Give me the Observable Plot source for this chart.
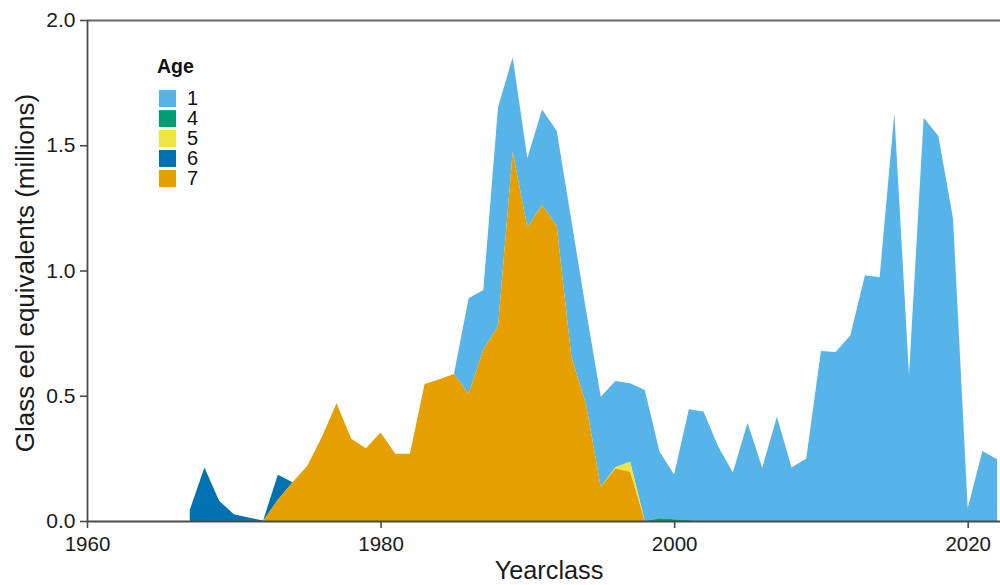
<!DOCTYPE html>
<html>
<head>
<meta charset="utf-8">
<script src="https://cdn.jsdelivr.net/npm/d3@7"></script>
<script src="https://cdn.jsdelivr.net/npm/@observablehq/plot@0.6"></script>
<style>
  html, body { margin: 0; padding: 0; background: #fff; }
  #wrap { position: relative; width: 1000px; height: 585px; font-family: "Liberation Sans", Arial, sans-serif; }
  #legend { position: absolute; left: 157px; top: 55px; color: #111; }
  #legend .title { font-weight: bold; font-size: 19.5px; line-height: 22px; margin-bottom: 11px; }
  #legend .row { display: flex; align-items: center; height: 20px; font-size: 20px; }
  #legend .sw { width: 17px; height: 17px; margin-left: 2px; margin-right: 11px; }
</style>
</head>
<body>
<div id="wrap"><div id="chart"></div><div id="legend"></div></div>
<script>
const years = [1967,1968,1969,1970,1971,1972,1973,1974,1975,1976,1977,1978,1979,1980,1981,1982,1983,1984,1985,1986,1987,1988,1989,1990,1991,1992,1993,1994,1995,1996,1997,1998,1999,2000,2001,2002,2003,2004,2005,2006,2007,2008,2009,2010,2011,2012,2013,2014,2015,2016,2017,2018,2019,2020,2021,2022];

const ages = ["1", "4", "5", "6", "7"];
const ageColors = ["#56B4E9", "#009E73", "#F0E442", "#0072B2", "#E69F00"];

const age1 = [0,0,0,0,0,0,0,0,0,0,0,0,0,0,0,0,0,0,0,0.382,0.237,0.875,0.377,0.276,0.382,0.38,0.544,0.375,0.359,0.344,0.313,0.523,0.266,0.179,0.443,0.437,0.297,0.194,0.392,0.213,0.416,0.214,0.25,0.679,0.675,0.741,0.981,0.973,1.628,0.583,1.61,1.537,1.208,0.051,0.279,0.247];
const age4 = [0,0,0,0,0,0,0,0,0,0,0,0,0,0,0,0,0,0,0,0,0,0,0,0,0,0,0,0,0,0,0,0,0.011,0.007,0.003,0,0,0,0,0,0,0,0,0,0,0,0,0,0,0,0,0,0,0,0,0];
const age5 = [0,0,0,0,0,0,0,0,0,0,0,0,0,0,0,0,0,0,0,0,0,0,0,0,0,0,0,0,0,0.005,0.04,0,0,0,0,0,0,0,0,0,0,0,0,0,0,0,0,0,0,0,0,0,0,0,0,0];
const age6 = [0.044,0.214,0.081,0.027,0.014,0.002,0.1,0,0,0,0,0,0,0,0,0,0,0,0,0,0,0,0,0,0,0,0,0,0,0,0,0,0,0,0,0,0,0,0,0,0,0,0,0,0,0,0,0,0,0,0,0,0,0,0,0];
const age7 = [0,0,0,0,0,0,0.085,0.155,0.22,0.335,0.47,0.328,0.29,0.353,0.268,0.268,0.547,0.566,0.587,0.507,0.685,0.776,1.474,1.172,1.261,1.178,0.656,0.465,0.137,0.21,0.197,0,0,0,0,0,0,0,0,0,0,0,0,0,0,0,0,0,0,0,0,0,0,0,0,0];

const xTicks = [1960, 1980, 2000, 2020];
const yTicks = [0, 0.5, 1.0, 1.5, 2.0];

const seriesByAge = {"1": age1, "4": age4, "5": age5, "6": age6, "7": age7};
const data = [];
for (const a of ages) {
  seriesByAge[a].forEach((v, i) => data.push({year: years[i], value: v, age: a}));
}

const axisColor = "#4a4a4a";

const chart = Plot.plot({
  width: 1000,
  height: 585,
  marginLeft: 87,
  marginRight: 0,
  marginTop: 20,
  marginBottom: 64,
  style: {fontFamily: '"Liberation Sans", Arial, sans-serif', fontSize: "20px", color: "#1a1a1a", background: "#fff"},
  x: {domain: [1960, 2022.2]},
  y: {domain: [0, 2]},
  color: {domain: ages, range: ageColors},
  marks: [
    Plot.areaY(data, {x: "year", y: "value", z: "age", fill: "age", order: ["7", "6", "5", "4", "1"]}),
    Plot.ruleY([2], {stroke: "#666", strokeWidth: 1.8}),
    Plot.ruleY([0], {stroke: axisColor, strokeWidth: 1.8}),
    Plot.ruleX([1960], {stroke: axisColor, strokeWidth: 1.8}),
    Plot.axisX({ticks: xTicks, tickFormat: d => String(d), tickSize: 7, tickPadding: 8, stroke: axisColor, strokeWidth: 1.6, fill: "#1a1a1a", fontSize: 20.5, label: null}),
    Plot.axisY({ticks: yTicks, tickFormat: d3.format(".1f"), tickSize: 7, tickPadding: 5, stroke: axisColor, strokeWidth: 1.6, fill: "#1a1a1a", fontSize: 21, label: null}),
    Plot.text(["Glass eel equivalents (millions)"], {frameAnchor: "left", textAnchor: "middle", dx: -62, dy: 2, rotate: -90, fontSize: 26, fill: "#1a1a1a"}),
    Plot.text(["Yearclass"], {frameAnchor: "bottom", textAnchor: "middle", dy: 57, dx: 5, fontSize: 25.3, fill: "#1a1a1a"})
  ]
});
document.getElementById("chart").appendChild(chart);

const legend = document.getElementById("legend");
const t = document.createElement("div");
t.className = "title"; t.textContent = "Age";
legend.appendChild(t);
ages.forEach((a, i) => {
  const row = document.createElement("div");
  row.className = "row";
  const sw = document.createElement("div");
  sw.className = "sw"; sw.style.background = ageColors[i];
  const lab = document.createElement("span");
  lab.textContent = a;
  row.appendChild(sw); row.appendChild(lab);
  legend.appendChild(row);
});
</script>
</body>
</html>
